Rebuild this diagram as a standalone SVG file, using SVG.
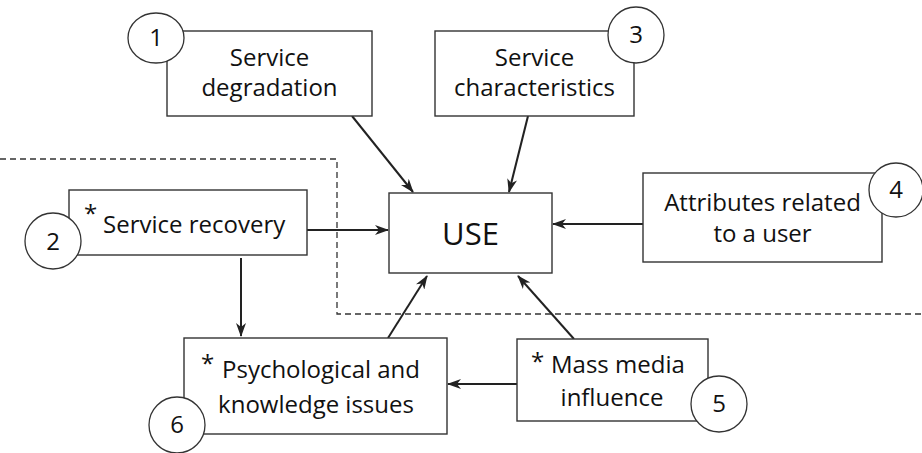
<svg xmlns="http://www.w3.org/2000/svg" width="922" height="453" viewBox="0 0 922 453">
<style>
.box{fill:#fff;stroke:#333;stroke-width:1.4}
.num{fill:#fff;stroke:#333;stroke-width:1.3}
.t{font-family:"Open Sans","Liberation Sans",sans-serif;font-size:24px;fill:#111}
.c{text-anchor:middle}
.edge{stroke:#222;stroke-width:2;fill:none;marker-end:url(#ah)}
.dash{stroke:#333;stroke-width:1.3;fill:none;stroke-dasharray:6 4}
</style>
<defs>
<marker id="ah" viewBox="0 0 14 10" refX="13" refY="5" markerWidth="14" markerHeight="10" markerUnits="userSpaceOnUse" orient="auto">
<path d="M0,0 L14,5 L0,10 L4,5 Z" fill="#222"/>
</marker>
</defs>
<rect width="922" height="453" fill="#fff"/>
<path class="dash" d="M0,159 H337 V314 H922"/>
<g id="connectors">
<line class="edge" x1="352" y1="116" x2="413" y2="192"/>
<line class="edge" x1="528" y1="116" x2="509" y2="192"/>
<line class="edge" x1="643" y1="224" x2="553" y2="224"/>
<line class="edge" x1="307" y1="230" x2="388" y2="230"/>
<line class="edge" x1="241" y1="258" x2="241" y2="336"/>
<line class="edge" x1="388" y1="338" x2="427" y2="276"/>
<line class="edge" x1="574" y1="339" x2="518" y2="276"/>
<line class="edge" x1="517" y1="384" x2="448" y2="384"/>
</g>
<g id="use">
<rect class="box" x="389" y="193" width="163" height="80"/>
<text class="t c" x="470.5" y="245" style="font-size:31px">USE</text>
</g>
<g id="n1">
<rect class="box" x="167" y="31" width="205" height="85"/>
<text class="t c" x="269.5" y="66">Service</text>
<text class="t c" x="269.5" y="96">degradation</text>
<ellipse class="num" cx="156" cy="38" rx="28" ry="25"/>
<text class="t c" x="156" y="46">1</text>
</g>
<g id="n3">
<rect class="box" x="435" y="31" width="199" height="85"/>
<text class="t c" x="534.5" y="66">Service</text>
<text class="t c" x="534.5" y="96">characteristics</text>
<circle class="num" cx="636" cy="35" r="28"/>
<text class="t c" x="636" y="43">3</text>
</g>
<g id="n4">
<rect class="box" x="643" y="173" width="239" height="89"/>
<text class="t c" x="762.5" y="211">Attributes related</text>
<text class="t c" x="762.5" y="242">to a user</text>
<circle class="num" cx="896" cy="190" r="27"/>
<text class="t c" x="896" y="198">4</text>
</g>
<g id="n2">
<rect class="box" x="69" y="190" width="238" height="65"/>
<text class="t" x="84" y="222">*</text>
<text class="t" x="103" y="233">Service recovery</text>
<circle class="num" cx="53" cy="241" r="28"/>
<text class="t c" x="53" y="250">2</text>
</g>
<g id="n6">
<rect class="box" x="184" y="338" width="263" height="96"/>
<text class="t" x="201" y="372">*</text>
<text class="t c" x="321" y="378">Psychological and</text>
<text class="t c" x="316" y="413">knowledge issues</text>
<circle class="num" cx="177" cy="425" r="28"/>
<text class="t c" x="177" y="433">6</text>
</g>
<g id="n5">
<rect class="box" x="517" y="339" width="191" height="82"/>
<text class="t" x="531" y="370">*</text>
<text class="t" x="551" y="373">Mass media</text>
<text class="t c" x="612" y="406">influence</text>
<circle class="num" cx="719" cy="404" r="28"/>
<text class="t c" x="719" y="412">5</text>
</g>
</svg>
